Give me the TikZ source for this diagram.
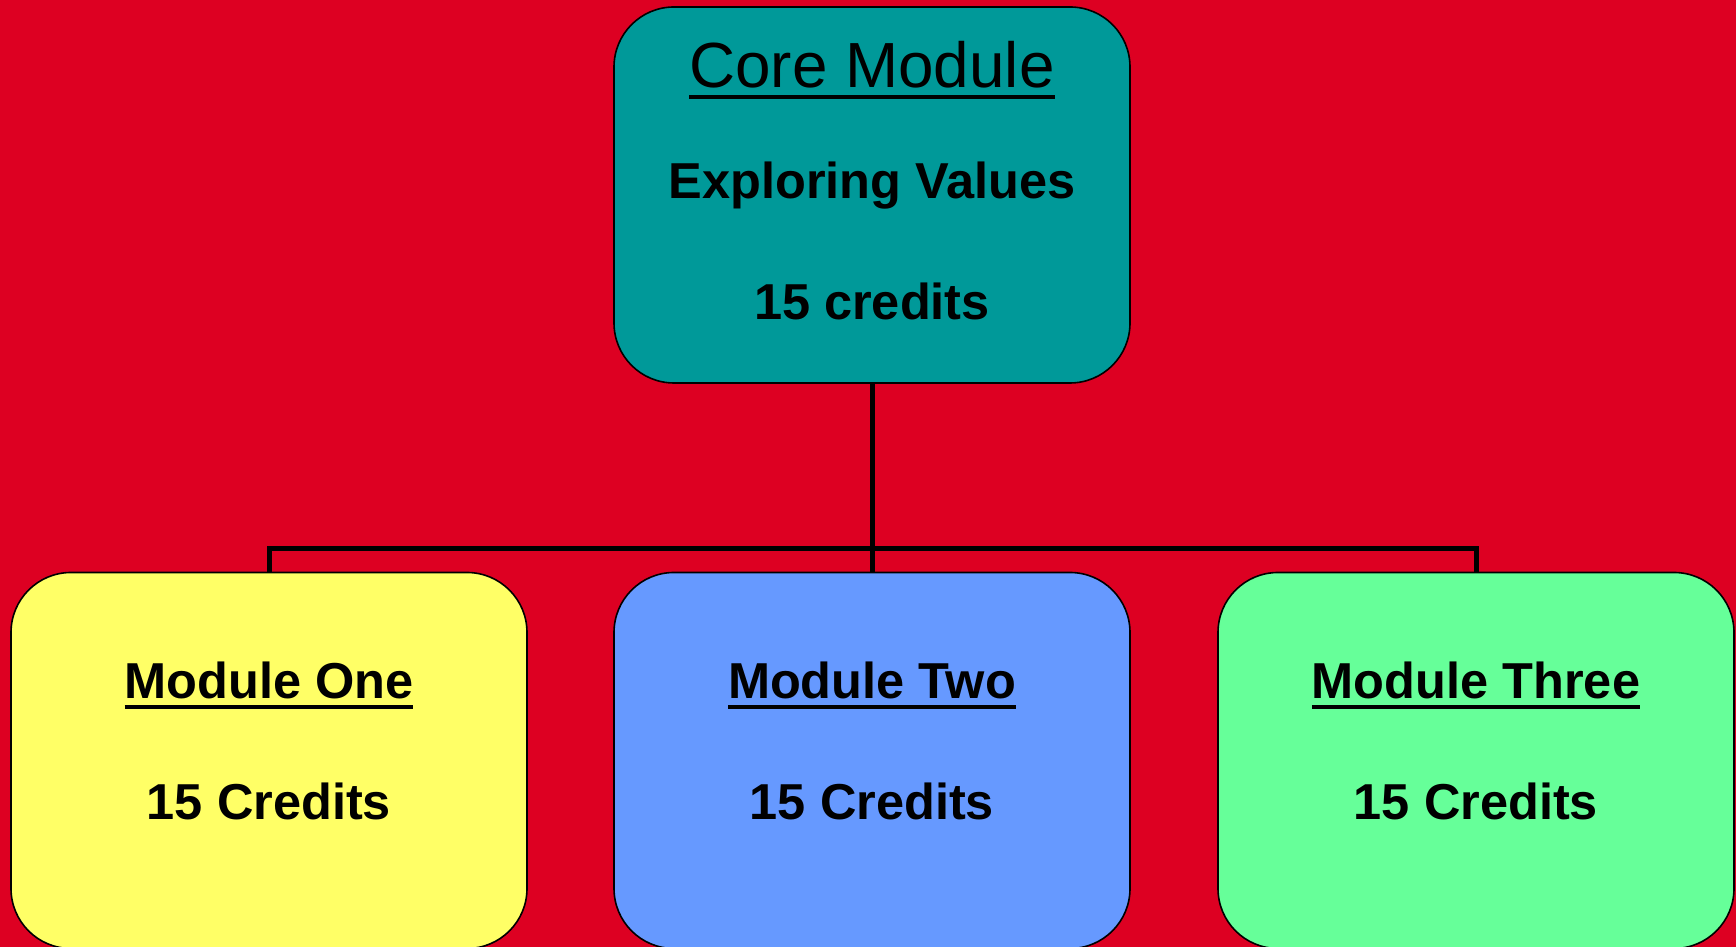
\documentclass[tikz,border=0pt]{standalone}
\usepackage{fontspec}
\setmainfont{Liberation Sans}
\definecolor{bgred}{RGB}{221,0,34}
\definecolor{coreteal}{RGB}{0,153,153}
\definecolor{modyellow}{RGB}{255,255,102}
\definecolor{modblue}{RGB}{102,153,255}
\definecolor{modgreen}{RGB}{102,255,153}
% underlined heading, rule drawn by hand
\newcommand\ulhead[2]{\vtop{\hbox{#2}\kern#1\hrule height2.4pt}}

\begin{document}
\begin{tikzpicture}[x=0.5pt, y=0.5pt,
    box/.style={draw=black, line width=0.8pt, rounded corners=30pt,
      minimum width=258pt, minimum height=188pt, inner sep=0pt},
    link/.style={line width=2.5pt},
    big/.style={font=\fontsize{31.9}{38}\selectfont, anchor=base},
    lbl/.style={font=\bfseries\fontsize{25.25}{30}\selectfont, anchor=base}]
  \fill[bgred] (0,0) rectangle (1736,947);
  \useasboundingbox (0,0) rectangle (1736,947);
  % boxes
  \node[box, fill=coreteal] (core) at (872,752) {};
  \node[box, fill=modyellow] (one) at (269,186.5) {};
  \node[box, fill=modblue] (two) at (872,186.5) {};
  \node[box, fill=modgreen] (three) at (1476,186.5) {};
  % connectors
  \coordinate (split) at (872,398.5);
  \draw[link] (core.south) -- (split);
  \draw[link] (one.north) |- (split) -| (three.north);
  \draw[link] (split) -- (two.north);
  % texts
  \node[big] (coretitle) at (872,859) {\ulhead{3pt}{Core Module}};
  \node[lbl] (corename) at (872,748) {Exploring Values};
  \node[lbl] (corecred) at (872,627) {15 credits};
  \node[lbl] (onetitle) at (269,248) {\ulhead{2.6pt}{Module One}};
  \node[lbl] (twotitle) at (872,248) {\ulhead{2.6pt}{Module Two}};
  \node[lbl] (threetitle) at (1476,248) {\ulhead{2.6pt}{Module Three}};
  \foreach \m in {one,two,three}
    \node[lbl] (\m cred) at (\m.center |- 0,127) {15 Credits};
\end{tikzpicture}
\end{document}
